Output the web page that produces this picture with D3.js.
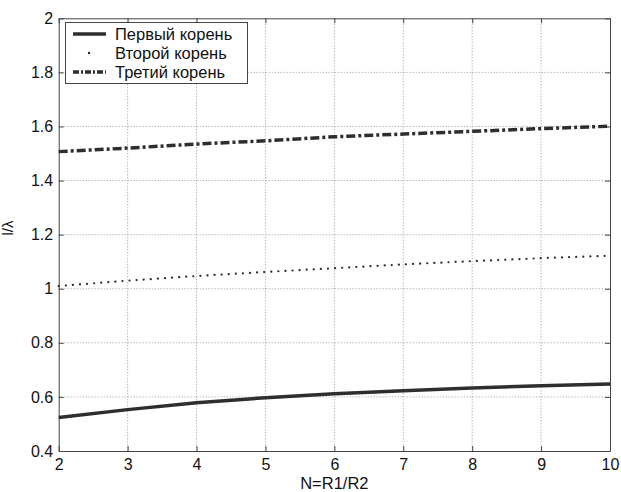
<!DOCTYPE html>
<html><head><meta charset="utf-8">
<script src="https://cdn.jsdelivr.net/npm/d3@7"></script>
<style>body{margin:0;background:#fff}svg{display:block}text{font-family:"Liberation Sans",Arial,sans-serif}</style>
</head><body><svg id="c" width="621" height="492"></svg>
<script>
const xValues = [2,3,4,5,6,7,8,9,10];
const root1 = [0.524,0.553,0.578,0.597,0.612,0.623,0.633,0.641,0.648];
const root2 = [1.010,1.030,1.047,1.062,1.076,1.090,1.102,1.113,1.122];
const root3 = [1.507,1.520,1.535,1.547,1.562,1.572,1.582,1.592,1.601];
const xTicks = [2,3,4,5,6,7,8,9,10];
const yTicks = [0.4,0.6,0.8,1,1.2,1.4,1.6,1.8,2];
const seriesNames = ["Первый корень","Второй корень","Третий корень"];

const svg = d3.select("#c");
const L=58.7,R=610,T=18.3,B=451;
const x = d3.scaleLinear().domain([2,10]).range([L,R]);
const y = d3.scaleLinear().domain([0.4,2]).range([B,T]);

// grid
const g = svg.append("g");
g.selectAll(".gx").data(xTicks.slice(1,-1)).enter().append("line")
 .attr("x1",d=>x(d)).attr("x2",d=>x(d)).attr("y1",T).attr("y2",B)
 .attr("stroke","#999").attr("stroke-width",1).attr("stroke-dasharray","1,2");
g.selectAll(".gy").data(yTicks.slice(1,-1)).enter().append("line")
 .attr("y1",d=>y(d)).attr("y2",d=>y(d)).attr("x1",L).attr("x2",R)
 .attr("stroke","#999").attr("stroke-width",1).attr("stroke-dasharray","1,2");

// axes
const fmt = d=>String(d);
const ax = svg.append("g").attr("transform",`translate(0,${B})`)
 .call(d3.axisBottom(x).tickValues(xTicks).tickFormat(fmt).tickSizeInner(-5).tickSizeOuter(0).tickPadding(7.5));
const ay = svg.append("g").attr("transform",`translate(${L},0)`)
 .call(d3.axisLeft(y).tickValues(yTicks).tickFormat(fmt).tickSizeInner(-5).tickSizeOuter(0).tickPadding(5.5));
const axT = svg.append("g").attr("transform",`translate(0,${T})`)
 .call(d3.axisTop(x).tickValues(xTicks).tickFormat("").tickSizeInner(-5).tickSizeOuter(0));
const ayR = svg.append("g").attr("transform",`translate(${R},0)`)
 .call(d3.axisRight(y).tickValues(yTicks).tickFormat("").tickSizeInner(-5).tickSizeOuter(0));
[ax,ay,axT,ayR].forEach(a=>{a.selectAll("path,line").attr("stroke","#444");a.selectAll("text").attr("font-size",16).attr("fill","#111").attr("font-family","Liberation Sans, Arial, sans-serif");});

// lines
const line = arr => d3.line().x((d,i)=>x(xValues[i])).y(d=>y(d))(arr);
const styles = [
 {w:3.5,dash:null,cap:"butt"},
 {w:2.2,dash:"0.1,7",cap:"round"},
 {w:3.5,dash:"9,3,3,3",cap:"butt"}
];
[root1,root2,root3].forEach((s,i)=>{
 svg.append("path").attr("d",line(s)).attr("fill","none").attr("stroke","#2e2e2e")
  .attr("stroke-width",styles[i].w).attr("stroke-dasharray",styles[i].dash).attr("stroke-linecap",styles[i].cap);
});

// legend
const lg = svg.append("g");
lg.append("rect").attr("x",65.5).attr("y",22.5).attr("width",182).attr("height",61).attr("fill","#fff").attr("stroke","#444");
seriesNames.forEach((n,i)=>{
 const yy = 34 + i*19;
 if(i===1){
  lg.append("circle").attr("cx",89).attr("cy",yy).attr("r",1.2).attr("fill","#222");
 } else {
  lg.append("line").attr("x1",73).attr("x2",106).attr("y1",yy).attr("y2",yy).attr("stroke","#2e2e2e")
   .attr("stroke-width",3.5).attr("stroke-dasharray",i===2?"6,2,2,2":null);
 }
 lg.append("text").attr("x",115).attr("y",yy+5.5).attr("font-size",16.5).attr("fill","#111").text(n);
});

// axis labels
svg.append("text").attr("x",(L+R)/2).attr("y",489).attr("text-anchor","middle").attr("font-size",16.5).attr("fill","#111").text("N=R1/R2");
svg.append("text").attr("transform",`translate(13,228) rotate(-90)`).attr("text-anchor","middle").attr("font-size",15).attr("fill","#111").text("l/λ");
</script></body></html>
